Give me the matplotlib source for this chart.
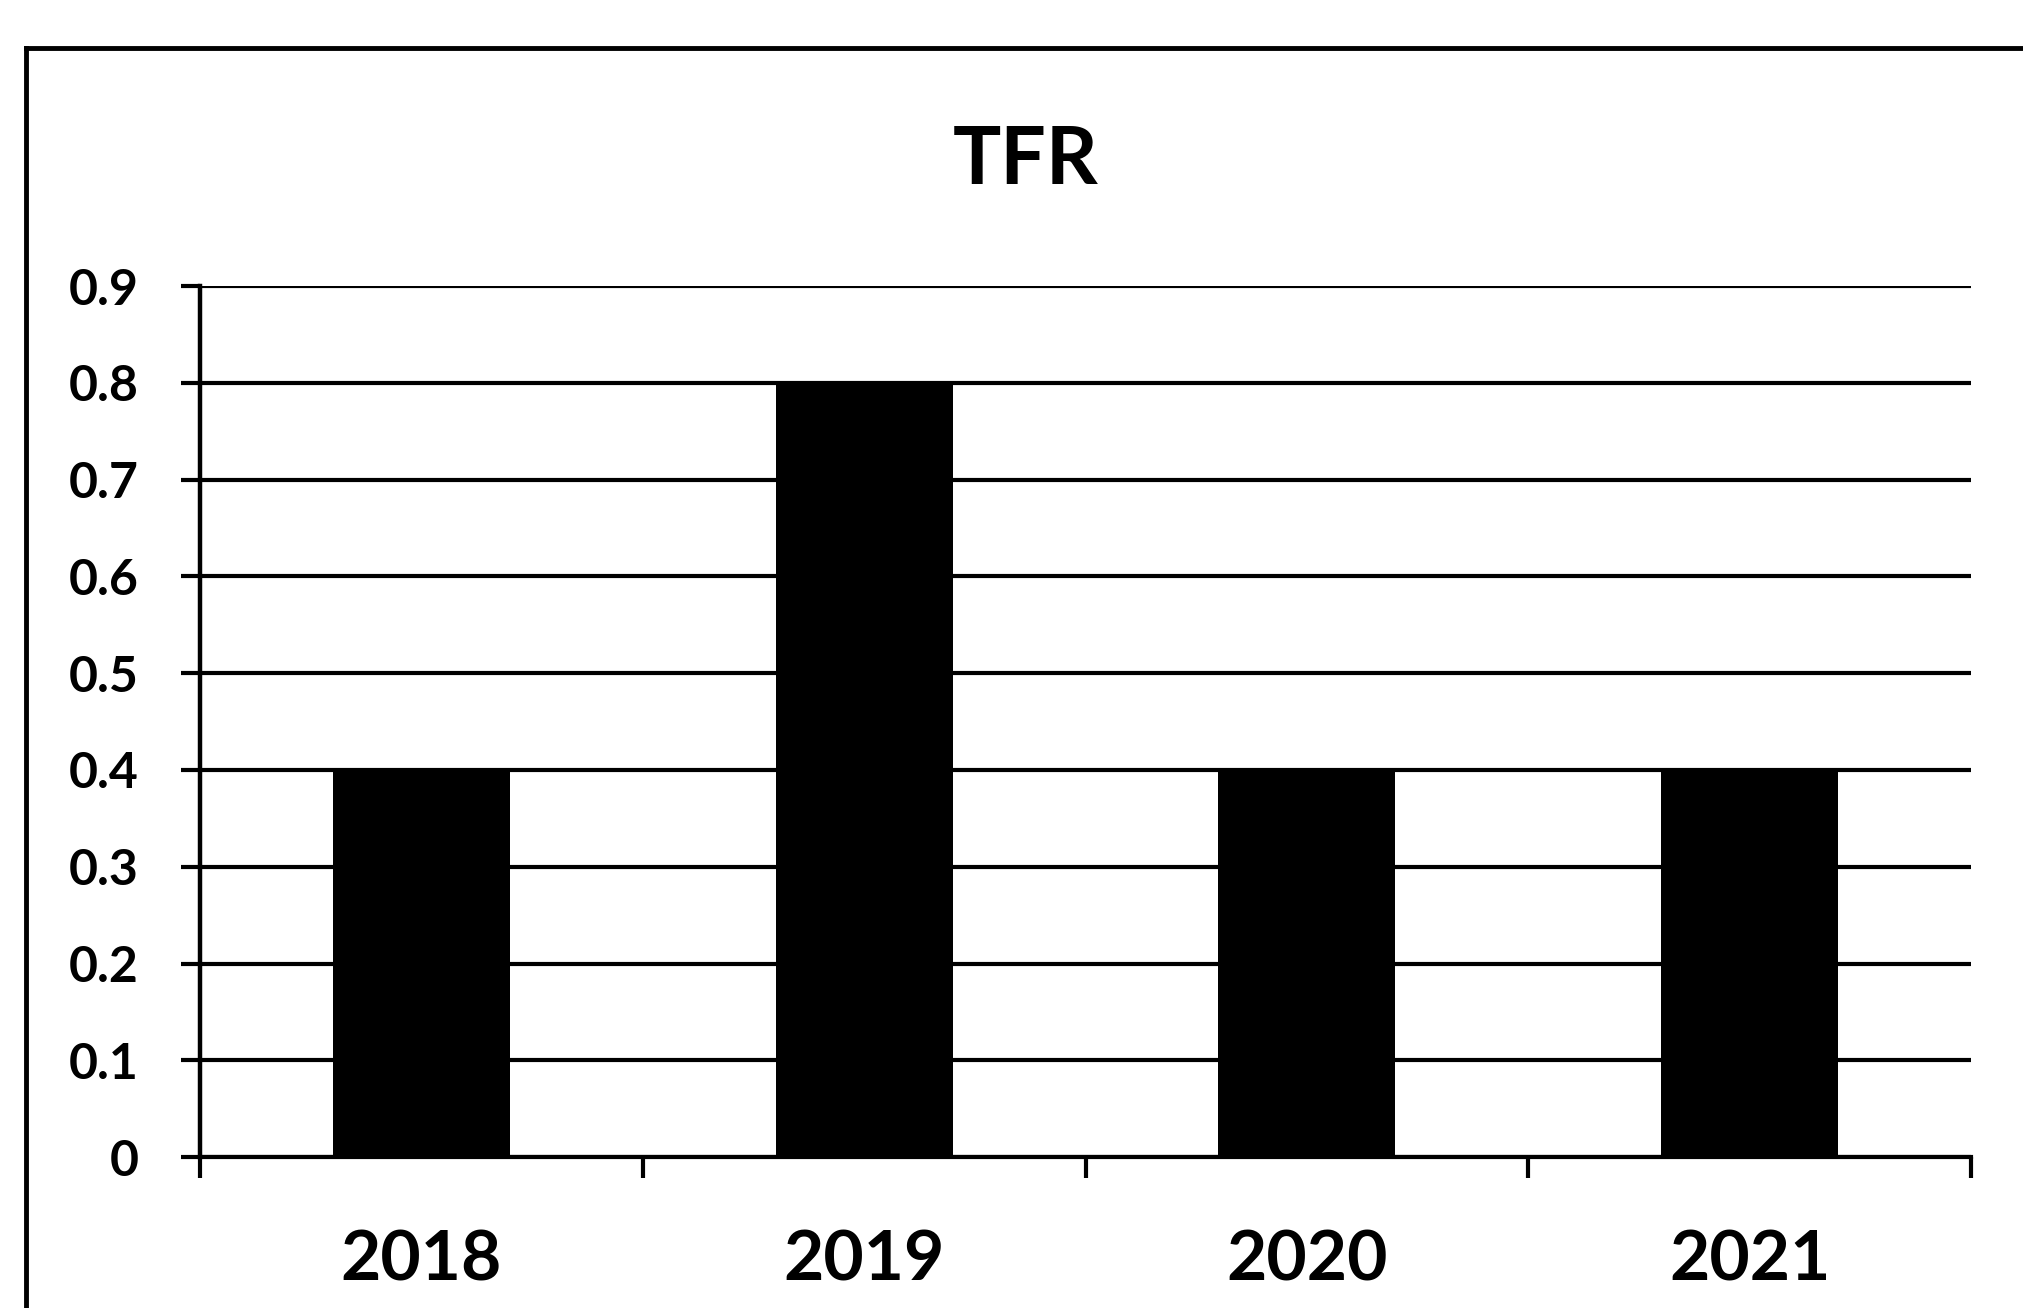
import matplotlib.pyplot as plt
from matplotlib.lines import Line2D

# data
years = ['2018', '2019', '2020', '2021']
tfr = [0.4, 0.8, 0.4, 0.4]
y_ticks = [0, 0.1, 0.2, 0.3, 0.4, 0.5, 0.6, 0.7, 0.8, 0.9]
y_labels = ['0', '0.1', '0.2', '0.3', '0.4', '0.5', '0.6', '0.7', '0.8', '0.9']

plt.rcParams['font.family'] = ['Lato', 'DejaVu Sans']

fig = plt.figure(figsize=(20.23, 13.08), dpi=100)
ax = fig.add_axes([0.0989, 0.1154, 0.8754, 0.6659])

x = list(range(len(years)))
ax.bar(x, tfr, width=0.4, color='black', zorder=3)

ax.set_xlim(-0.5, len(years) - 0.5)
ax.set_ylim(0, 0.9)

# horizontal grid lines, black like the scan
ax.set_yticks(y_ticks)
ax.set_yticklabels(y_labels, fontsize=36, fontweight='bold')
ax.yaxis.grid(True, color='black', linewidth=3)
ax.set_axisbelow(True)
ax.tick_params(axis='y', length=14, width=3, pad=30, color='black')

# category boundary ticks, labels centred in each category
ax.set_xticks([i - 0.5 for i in range(len(years) + 1)])
ax.set_xticklabels([])
ax.set_xticks(x, minor=True)
ax.set_xticklabels(years, minor=True, fontsize=50, fontweight='bold')
ax.tick_params(axis='x', which='major', length=15, width=3, direction='out')
ax.tick_params(axis='x', which='minor', length=0, pad=52)

for side in ['top', 'right']:
    ax.spines[side].set_visible(False)
ax.spines['left'].set_linewidth(3.2)
ax.spines['bottom'].set_linewidth(3)

fig.text(0.507, 0.877, 'TFR', ha='center', va='center', fontsize=58, fontweight='bold')

# outer chart frame (only top and left edges are inside the scan)
fig.add_artist(Line2D([0.0129, 1.0], [0.9633, 0.9633], color='black', linewidth=3.5))
fig.add_artist(Line2D([0.0129, 0.0129], [0.0, 0.9633], color='black', linewidth=3.5))

fig.savefig('out.png', dpi=100, facecolor='white')
